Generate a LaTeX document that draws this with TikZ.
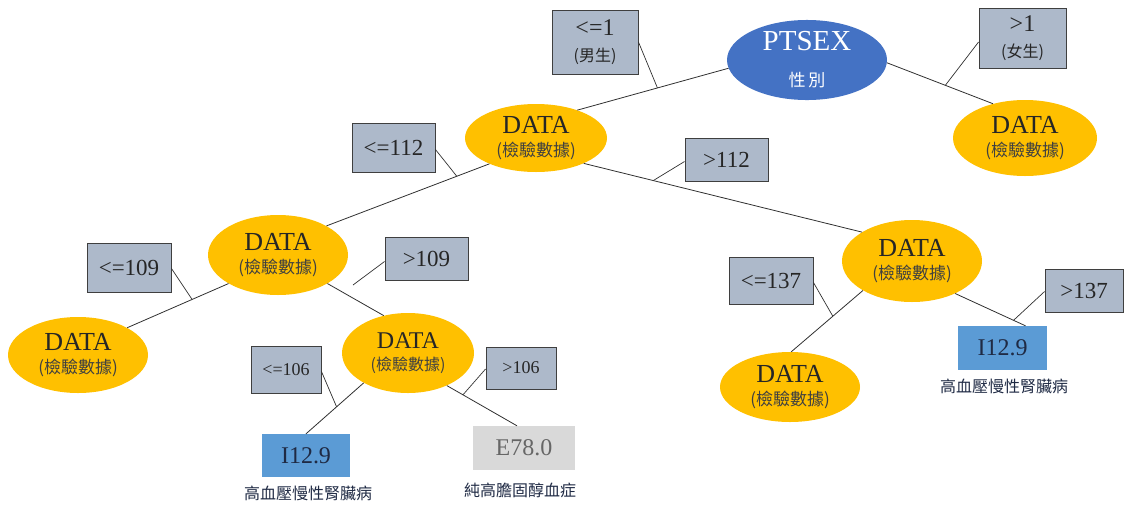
\documentclass[tikz,border=0pt]{standalone}
\usepackage{fontspec}
\setmainfont{Liberation Serif}
\newfontfamily\cjk{Noto Sans CJK TC}
\usetikzlibrary{shapes.geometric}

\definecolor{ptblue}{HTML}{4472C4}
\definecolor{dataorange}{HTML}{FFC000}
\definecolor{condfill}{HTML}{ADB9CA}
\definecolor{condline}{HTML}{3F3F3F}
\definecolor{leafblue}{HTML}{5B9BD5}
\definecolor{leafgray}{HTML}{D9D9D9}
\definecolor{linegray}{HTML}{303030}
\definecolor{cjkgray}{HTML}{404040}
\definecolor{leaftext}{HTML}{1F2A44}

\newcommand\fsz[2]{\fontsize{#1}{#2}\selectfont}
% contents of every yellow test node: DATA over (檢驗數據)
\newcommand\datalabel[2]{DATA\\{\cjk\fsz{#2}{#2}\color{cjkgray}(檢驗數據)}}

\begin{document}
\begin{tikzpicture}[x=1pt,y=-1pt,
  rootnode/.style={ellipse, fill=ptblue, inner sep=0pt, align=center, text=white},
  datanode/.style={ellipse, fill=dataorange, inner sep=0pt, align=center, text=black!85,
    font=\fsz{26}{23}},
  condbox/.style={rectangle, draw=condline, line width=0.9pt, fill=condfill, inner sep=0pt,
    align=center, text=black!85},
  leafbox/.style={rectangle, inner sep=0pt, font=\fsz{24}{24}},
  leafnote/.style={inner sep=0pt, font=\cjk\fsz{16}{16}, text=leaftext},
  edge/.style={draw=linegray, line width=0.8pt},
  tick/.style={draw=linegray, line width=0.7pt}]

\useasboundingbox (0,0) rectangle (1124,504);

% ---- tree nodes ----
\node[rootnode, font=\fsz{29}{36}, minimum width=160pt, minimum height=80pt] (pt) at (807,60)
  {PTSEX\\{\cjk\fsz{17}{17}性\,別}};
\node[datanode, minimum width=142pt, minimum height=68pt] (d1) at (536,138) {\datalabel{26}{17}};
\node[datanode, minimum width=144pt, minimum height=76pt] (dR) at (1025,138) {\datalabel{26}{17}};
\node[datanode, minimum width=140pt, minimum height=80pt] (d2l) at (278,255) {\datalabel{26}{17}};
\node[datanode, minimum width=140pt, minimum height=82pt] (d2r) at (912,261) {\datalabel{26}{17}};
\node[datanode, minimum width=140pt, minimum height=76pt] (d3a) at (78,355) {\datalabel{26}{17}};
\node[datanode, font=\fsz{24}{22}, minimum width=132pt, minimum height=80pt] (d3b) at (408,353) {\datalabel{24}{16}};
\node[datanode, minimum width=140pt, minimum height=70pt] (d3c) at (790,387) {\datalabel{26}{17}};

% ---- leaves ----
\node[leafbox, fill=leafblue, text=leaftext, minimum width=88pt, minimum height=43pt] (i1) at (306,455.5) {I12.9};
\node[leafbox, fill=leafgray, text=black!60, minimum width=102pt, minimum height=44pt] (e7) at (524,448) {E78.0};
\node[leafbox, fill=leafblue, text=leaftext, minimum width=89pt, minimum height=44pt] (i3) at (1002.5,348) {I12.9};
\node[leafnote] (i1note) at (308,493) {高血壓慢性腎臟病};
\node[leafnote] (e7note) at (520,490) {純高膽固醇血症};
\node[leafnote] (i3note) at (1004,386) {高血壓慢性腎臟病};

% ---- split conditions ----
\node[condbox, font=\fsz{24}{26}, minimum width=86pt, minimum height=64pt] (c1) at (595,42)
  {<=1\\{\cjk\fsz{16}{16}(男生)}};
\node[condbox, font=\fsz{24}{26}, minimum width=87pt, minimum height=60pt] (c2) at (1022.5,38)
  {>1\\{\cjk\fsz{16}{16}(女生)}};
\node[condbox, font=\fsz{23}{23}, minimum width=83pt, minimum height=49pt] (c3) at (393.5,147.5) {<=112};
\node[condbox, font=\fsz{23}{23}, minimum width=83pt, minimum height=43pt] (c4) at (726.5,159.5) {>112};
\node[condbox, font=\fsz{23}{23}, minimum width=84pt, minimum height=49pt] (c5) at (129,267.5) {<=109};
\node[condbox, font=\fsz{23}{23}, minimum width=83pt, minimum height=43pt] (c6) at (426.5,258.5) {>109};
\node[condbox, font=\fsz{18}{18}, minimum width=70pt, minimum height=47pt] (c7) at (286,369.5) {<=106};
\node[condbox, font=\fsz{18}{18}, minimum width=70pt, minimum height=42pt] (c8) at (521,368) {>106};
\node[condbox, font=\fsz{23}{23}, minimum width=84pt, minimum height=47pt] (c9) at (771,280.5) {<=137};
\node[condbox, font=\fsz{23}{23}, minimum width=78pt, minimum height=43pt] (c10) at (1084,290.5) {>137};

% ---- branches ----
\draw[edge] (pt.186) -- coordinate[pos=0.47] (m1) (d1.34);
\draw[edge] (pt.358) -- coordinate[pos=0.55] (m2) (dR.133);
\draw[edge] (d1.209) -- coordinate[pos=0.20] (m3) (d2l.31);
\draw[edge] (d1.332) -- coordinate[pos=0.25] (m4) (d2r.150);
\draw[edge] (d2l.210) -- coordinate[pos=0.36] (m5) (d3a.29);
\draw[edge] (d2l.330) -- (d3b.123);
\coordinate (m6) at (353,285);
\draw[edge] (d3b.214) -- coordinate[pos=0.47] (m7) (i1.north);
\draw[edge] (d3b.320) -- coordinate[pos=0.23] (m8) ([xshift=-7pt]e7.north);
\draw[edge] (d2r.211) -- coordinate[pos=0.42] (m9) (d3c.88);
\draw[edge] (d2r.323) -- coordinate[pos=0.83] (m10) ([xshift=23pt]i3.north);

% ---- condition pointers ----
\draw[tick] (c1.east) -- (m1);
\draw[tick] ([yshift=-4pt]c2.west) -- (m2);
\draw[tick] ([yshift=-2pt]c3.east) -- (m3);
\draw[tick] ([yshift=-2pt]c4.west) -- (m4);
\draw[tick] ([yshift=-1pt]c5.east) -- (m5);
\draw[tick] ([yshift=-3pt]c6.west) -- (m6);
\draw[tick] ([yshift=-2pt]c7.east) -- (m7);
\draw[tick] ([yshift=-1pt]c8.west) -- (m8);
\draw[tick] ([yshift=-2pt]c9.east) -- (m9);
\draw[tick] ([yshift=-1pt]c10.west) -- (m10);
\end{tikzpicture}
\end{document}
